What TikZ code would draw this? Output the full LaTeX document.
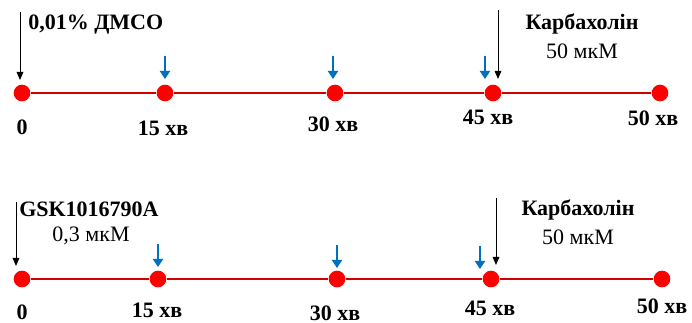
\documentclass[tikz,border=0pt]{standalone}
\usepackage{fontspec}
\setmainfont{Liberation Serif}
\usepackage{xcolor}
\usetikzlibrary{positioning,arrows.meta}
\definecolor{lineRed}{HTML}{D00000}
\definecolor{dotRed}{HTML}{FF0000}
\definecolor{markBlue}{HTML}{0070C0}

\begin{document}
\begin{tikzpicture}[
  x=0.75pt, y=-0.75pt,
  dot/.style={circle, fill=dotRed, inner sep=0pt, minimum size=12.5pt},
  tick/.style={font=\fontsize{16.5}{18}\selectfont\bfseries, inner sep=0pt},
  drug/.style={font=\fontsize{16.5}{18}\selectfont\bfseries, inner sep=0pt},
  dose/.style={font=\fontsize{16.5}{18}\selectfont, inner sep=0pt},
  axis/.style={lineRed, line width=1.5pt},
  add/.style={-{Triangle[length=6pt,width=5pt]}, line width=0.75pt},
  wash/.style={-{Triangle[length=6pt,width=7.5pt]}, markBlue, line width=2.2pt}
]
  \useasboundingbox (0,0) rectangle (692,323);

  % top timeline
  \node[dot] (a0)  at (22,93)  {};
  \node[dot] (a15) at (165,93) {};
  \node[dot] (a30) at (335,93) {};
  \node[dot] (a45) at (493,93) {};
  \node[dot] (a50) at (660,93) {};
  \draw[axis] (a0) -- (a15) -- (a30) -- (a45) -- (a50);

  \node[tick] (ta0)  at (22,127)  {0};
  \node[tick] (ta15) at (163,128) {15 хв};
  \node[tick] (ta30) at (333,124) {30 хв};
  \node[tick] (ta45) at (488,117) {45 хв};
  \node[tick] (ta50) at (653,118) {50 хв};

  \node[drug, anchor=west] (dmso) at (28,25) {0,01\% ДМСО};
  \coordinate (dmsoTop) at (20,12);
  \coordinate (dmsoEnd) at (20,80);
  \draw[add] (dmsoTop) -- (dmsoEnd);

  \node[drug] (carbA) at (582,24) {Карбахолін};
  \node[dose, below=7pt of carbA] (carbAdose) {50 мкМ};
  \coordinate (carbATop) at (498,10);
  \coordinate (carbAEnd) at (498,79);
  \draw[add] (carbATop) -- (carbAEnd);

  \coordinate (wa15) at (165,56);
  \coordinate (wa15e) at (165,79);
  \coordinate (wa30) at (333,56);
  \coordinate (wa30e) at (333,79);
  \coordinate (wa45) at (485,56);
  \coordinate (wa45e) at (485,79);
  \draw[wash] (wa15) -- (wa15e);
  \draw[wash] (wa30) -- (wa30e);
  \draw[wash] (wa45) -- (wa45e);

  % bottom timeline
  \node[dot] (b0)  at (22,279)  {};
  \node[dot] (b15) at (158,279) {};
  \node[dot] (b30) at (337,279) {};
  \node[dot] (b45) at (491,279) {};
  \node[dot] (b50) at (662,279) {};
  \draw[axis] (b0) -- (b15) -- (b30) -- (b45) -- (b50);

  \node[tick] (tb0)  at (22,312)  {0};
  \node[tick] (tb15) at (157,310) {15 хв};
  \node[tick] (tb30) at (335,313) {30 хв};
  \node[tick] (tb45) at (490,308) {45 хв};
  \node[tick] (tb50) at (662,306) {50 хв};

  \node[drug, anchor=west] (gsk) at (19,209) {GSK1016790A};
  \node[dose] (gskdose) at (91,236) {0,3 мкМ};
  \coordinate (gskTop) at (16,202);
  \coordinate (gskEnd) at (16,266);
  \draw[add] (gskTop) -- (gskEnd);

  \node[drug] (carbB) at (578,210) {Карбахолін};
  \node[dose, below=7pt of carbB] (carbBdose) {50 мкМ};
  \coordinate (carbBTop) at (496,198);
  \coordinate (carbBEnd) at (496,265);
  \draw[add] (carbBTop) -- (carbBEnd);

  \coordinate (wb15) at (158,244);
  \coordinate (wb15e) at (158,267);
  \coordinate (wb30) at (337,245);
  \coordinate (wb30e) at (337,268);
  \coordinate (wb45) at (480,246);
  \coordinate (wb45e) at (480,269);
  \draw[wash] (wb15) -- (wb15e);
  \draw[wash] (wb30) -- (wb30e);
  \draw[wash] (wb45) -- (wb45e);
\end{tikzpicture}
\end{document}
